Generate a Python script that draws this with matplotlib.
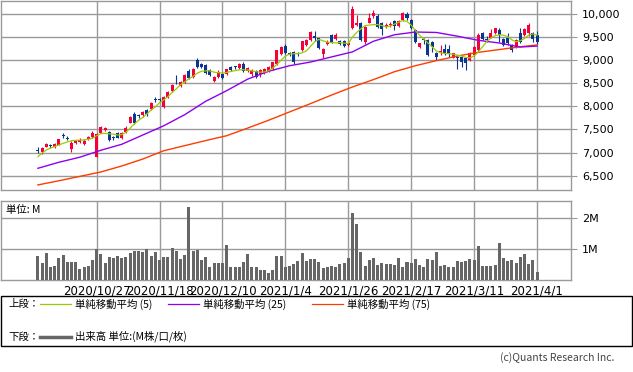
import numpy as np
import matplotlib
matplotlib.use("Agg")
from matplotlib import pyplot as plt
from matplotlib.patches import Rectangle
from matplotlib.lines import Line2D

# daily OHLC, 2020/10/7 .. 2021/4/1 (120 sessions)
opens = [7060, 7020, 7130, 7150, 7130, 7170, 7380, 7320, 7070, 7200,
         7220, 7190, 7290, 7330, 6910, 7430, 7480, 7450, 7330, 7430,
         7310, 7440, 7650, 7830, 7800, 7810, 7920, 7940, 8150, 8150,
         7980, 8200, 8340, 8530, 8440, 8535, 8766, 8643, 9004, 8910,
         8890, 8790, 8556, 8643, 8710, 8695, 8855, 8860, 8840, 8927,
         8768, 8700, 8768, 8695, 8732, 8768, 8804, 8913, 9130, 9312,
         9150, 9177, 9150, 9214, 9330, 9430, 9530, 9470, 9130, 9340,
         9540, 9460, 9410, 9410, 9330, 9690, 9770, 9810, 9390, 9812,
         9963, 9957, 9800, 9750, 9760, 9850, 9730, 9860, 10000, 9870,
         9650, 9290, 9460, 9435, 9400, 9160, 9170, 9250, 9250, 9058,
         9070, 9060, 9040, 9010, 9110, 9220, 9580, 9460, 9490, 9580,
         9650, 9450, 9470, 9325, 9290, 9595, 9540, 9580, 9580, 9545]
highs = [7110, 7125, 7215, 7180, 7200, 7300, 7430, 7365, 7240, 7280,
         7310, 7290, 7360, 7470, 7420, 7570, 7560, 7470, 7360, 7450,
         7450, 7570, 7800, 7880, 7830, 7890, 7940, 8090, 8200, 8180,
         8230, 8340, 8480, 8670, 8560, 8700, 8800, 8830, 9040, 8940,
         8910, 8810, 8650, 8780, 8730, 8820, 8870, 8880, 8940, 8950,
         8850, 8800, 8790, 8800, 8830, 8870, 8960, 9230, 9300, 9340,
         9180, 9190, 9170, 9420, 9460, 9640, 9630, 9490, 9270, 9430,
         9560, 9580, 9440, 9440, 9400, 10170, 9980, 9830, 9740, 10015,
         10080, 9990, 9830, 9800, 9820, 9870, 9870, 10040, 10050, 9890,
         9670, 9380, 9490, 9460, 9420, 9180, 9330, 9340, 9320, 9160,
         9100, 9110, 9060, 9180, 9300, 9580, 9600, 9520, 9670, 9700,
         9690, 9470, 9580, 9340, 9450, 9690, 9690, 9800, 9620, 9630]
lows = [6985, 6980, 7120, 7100, 7100, 7160, 7320, 7270, 7020, 7190,
        7200, 7170, 7270, 7310, 6900, 7420, 7460, 7260, 7270, 7310,
        7300, 7420, 7630, 7620, 7740, 7780, 7800, 7920, 8100, 8090,
        7960, 8180, 8320, 8480, 8420, 8510, 8590, 8620, 8830, 8840,
        8700, 8650, 8530, 8620, 8600, 8680, 8770, 8820, 8820, 8750,
        8740, 8660, 8620, 8630, 8710, 8750, 8790, 8900, 9110, 9130,
        9100, 8920, 9100, 9200, 9310, 9410, 9420, 9240, 9040, 9320,
        9380, 9440, 9320, 9280, 9300, 9680, 9740, 9420, 9360, 9800,
        9910, 9690, 9550, 9700, 9720, 9660, 9710, 9840, 9880, 9680,
        9380, 9270, 9360, 9080, 9180, 9000, 9110, 9110, 9070, 9040,
        8820, 8850, 8780, 8990, 9090, 9200, 9430, 9400, 9470, 9560,
        9400, 9300, 9330, 9180, 9270, 9380, 9520, 9520, 9400, 9360]
closes = [7040, 7095, 7180, 7140, 7175, 7285, 7365, 7285, 7215, 7260,
          7280, 7250, 7330, 7420, 7400, 7550, 7540, 7280, 7310, 7320,
          7430, 7540, 7780, 7650, 7790, 7870, 7840, 8070, 8140, 8140,
          8200, 8320, 8460, 8520, 8530, 8680, 8608, 8809, 8859, 8859,
          8730, 8680, 8630, 8752, 8623, 8804, 8790, 8850, 8927, 8768,
          8826, 8780, 8637, 8782, 8804, 8855, 8950, 9217, 9275, 9145,
          9135, 8950, 9135, 9409, 9430, 9620, 9470, 9260, 9250, 9400,
          9400, 9540, 9340, 9300, 9370, 10110, 9810, 9440, 9720, 9907,
          10028, 9712, 9680, 9770, 9780, 9740, 9850, 10020, 9910, 9700,
          9400, 9370, 9440, 9110, 9290, 9070, 9190, 9145, 9130, 9145,
          9040, 8960, 8930, 9160, 9290, 9555, 9450, 9440, 9580, 9690,
          9540, 9325, 9380, 9215, 9435, 9400, 9665, 9760, 9450, 9400]

# volume, millions of shares
volume = [0.78, 0.55, 0.87, 0.41, 0.44, 0.71, 0.82, 0.58, 0.58, 0.58,
          0.36, 0.41, 0.44, 0.65, 1.00, 0.85, 0.55, 0.75, 0.72, 0.78,
          0.72, 0.75, 0.87, 0.95, 0.95, 0.91, 1.00, 0.78, 0.91, 0.65,
          0.75, 0.75, 1.04, 0.95, 0.68, 0.82, 2.35, 0.95, 0.98, 0.65,
          0.75, 0.41, 0.56, 0.56, 0.56, 1.14, 0.43, 0.43, 0.43, 0.59,
          0.85, 0.43, 0.43, 0.33, 0.33, 0.24, 0.34, 0.78, 0.78, 0.43,
          0.46, 0.52, 0.62, 0.88, 0.62, 0.68, 0.68, 0.59, 0.40, 0.43,
          0.46, 0.43, 0.52, 0.56, 0.72, 2.17, 1.82, 0.91, 0.46, 0.65,
          0.72, 0.49, 0.56, 0.52, 0.52, 0.49, 0.72, 0.43, 0.59, 0.56,
          0.68, 0.49, 0.43, 0.68, 0.65, 0.91, 0.46, 0.49, 0.43, 0.43,
          0.62, 0.59, 0.62, 0.68, 0.65, 1.11, 0.44, 0.46, 0.46, 0.49,
          1.20, 0.72, 0.62, 0.65, 0.56, 0.75, 0.85, 0.52, 0.65, 0.27]

# moving averages
ma5 = [6910, 6990, 7056, 7100, 7128, 7165, 7200, 7230, 7258, 7265,
       7270, 7272, 7290, 7308, 7365, 7410, 7417, 7405, 7400, 7380,
       7390, 7440, 7530, 7620, 7700, 7760, 7840, 7920, 7990, 8080,
       8140, 8210, 8300, 8380, 8470, 8530, 8600, 8650, 8720, 8760,
       8770, 8770, 8740, 8730, 8720, 8735, 8755, 8775, 8790, 8795,
       8785, 8770, 8750, 8740, 8745, 8770, 8830, 8910, 9000, 9090,
       9130, 9140, 9140, 9160, 9200, 9300, 9400, 9450, 9420, 9390,
       9380, 9375, 9380, 9370, 9360, 9500, 9600, 9680, 9750, 9760,
       9770, 9770, 9750, 9720, 9740, 9780, 9820, 9860, 9840, 9760,
       9640, 9540, 9460, 9370, 9290, 9200, 9160, 9145, 9140, 9130,
       9110, 9090, 9060, 9050, 9090, 9180, 9290, 9400, 9480, 9530,
       9550, 9540, 9510, 9440, 9400, 9420, 9470, 9540, 9570, 9540]
ma_idx = list(range(0, 120, 5)) + [119]
ma25 = [6660, 6790, 6900, 7050, 7180, 7380, 7580, 7820, 8110, 8340,
        8590, 8760, 8880, 8960, 9070, 9180, 9410, 9550, 9610, 9600,
        9520, 9430, 9372, 9285, 9305]
ma75 = [6300, 6390, 6485, 6580, 6710, 6860, 7040, 7150, 7260, 7365,
        7530, 7700, 7880, 8060, 8245, 8420, 8580, 8750, 8880, 8990,
        9090, 9170, 9230, 9290, 9330]

tick_idx = [14, 29, 44, 59, 74, 89, 104, 119]
tick_labels = ["2020/10/27", "2020/11/18", "2020/12/10", "2021/1/4",
               "2021/1/26", "2021/2/17", "2021/3/11", "2021/4/1"]

RED = "#f5003a"
BLUE = "#0a3592"
C5 = "#99cc00"
C25 = "#9000f0"
C75 = "#ff3c00"
GRID = "#9a9a9a"
JP = ["Noto Sans CJK JP", "DejaVu Sans"]

plt.rcParams["font.family"] = ["DejaVu Sans", "Noto Sans CJK JP"]

fig = plt.figure(figsize=(6.33, 3.72), dpi=100)
W, H = 633.0, 372.0
ax = fig.add_axes([1 / W, 1 - 190 / H, 570 / W, 189.5 / H])
axv = fig.add_axes([1 / W, 1 - 280 / H, 570 / W, 79 / H])

o = np.array(opens)
h = np.array(highs)
l = np.array(lows)
c = np.array(closes)
x = np.arange(len(o))
cols = np.where(c >= o, RED, BLUE)

ax.vlines(x, l, h, colors=cols, lw=0.8, zorder=3)
ax.bar(x, np.maximum(np.abs(c - o), 15), bottom=np.minimum(o, c),
       width=0.72, color=cols, lw=0, zorder=3)
ax.plot(ma_idx, ma75, color=C75, lw=1.0, zorder=4)
ax.plot(ma_idx, ma25, color=C25, lw=1.0, zorder=4)
ax.plot(x, ma5, color=C5, lw=0.9, zorder=4)

xlim = (-8.8, 127.1)
ax.set_xlim(*xlim)
ax.set_ylim(6190, 10292)
ax.yaxis.tick_right()
ax.set_yticks(range(6500, 10001, 500))
ax.set_yticklabels([f"{v:,}" for v in range(6500, 10001, 500)])
ax.set_xticks(tick_idx)
ax.set_xticklabels([])
ax.tick_params(axis="x", length=0)
ax.tick_params(axis="y", length=4, color=GRID, pad=4, labelsize=8)
ax.grid(True, color=GRID, lw=1)
ax.set_axisbelow(True)

axv.bar(x, volume, width=0.72, color="#666666", lw=0, zorder=3)
axv.set_xlim(*xlim)
axv.set_ylim(0, 2.56)
axv.yaxis.tick_right()
axv.set_yticks([1, 2])
axv.set_yticklabels(["1M", "2M"])
axv.set_xticks(tick_idx)
axv.set_xticklabels(tick_labels)
axv.tick_params(axis="x", length=0, pad=3, labelsize=8.5)
axv.tick_params(axis="y", length=4, color=GRID, pad=4, labelsize=8)
axv.grid(True, color=GRID, lw=1)
axv.set_axisbelow(True)
axv.text(0.008, 0.89, "単位: M", transform=axv.transAxes, va="center",
         ha="left", fontsize=7.5, family=JP)

for a in (ax, axv):
    for s in a.spines.values():
        s.set_color(GRID)
        s.set_linewidth(1)

# legend box
fig.patches.append(Rectangle((0.5 / W, 1 - 346 / H), 631.5 / W, 50 / H,
                             transform=fig.transFigure, fill=False,
                             edgecolor="black", lw=1))
y1 = 1 - 304 / H
y2 = 1 - 336.5 / H
fig.text(8 / W, y1, "上段：", fontsize=7.5, va="center", family=JP)
fig.text(8 / W, y2, "下段：", fontsize=7.5, va="center", family=JP)
items = [(40, C5, "単純移動平均 (5)"), (168, C25, "単純移動平均 (25)"),
         (312, C75, "単純移動平均 (75)")]
for x0, col, lab in items:
    fig.add_artist(Line2D([x0 / W, (x0 + 31) / W], [y1, y1], color=col,
                          lw=0.9, transform=fig.transFigure))
    fig.text((x0 + 35) / W, y1, lab, fontsize=7.5, va="center", family=JP)
fig.add_artist(Line2D([40 / W, 71 / W], [y2, y2], color="#666666", lw=2.5,
                      transform=fig.transFigure))
fig.text(75 / W, y2, "出来高 単位:(M株/口/枚)", fontsize=7.5, va="center",
         family=JP)

fig.text(614 / W, 1 - 358 / H, "(c)Quants Research Inc.", fontsize=7.5,
         ha="right", va="center", color="#444444", family=JP)

fig.savefig("out.png", dpi=100)
